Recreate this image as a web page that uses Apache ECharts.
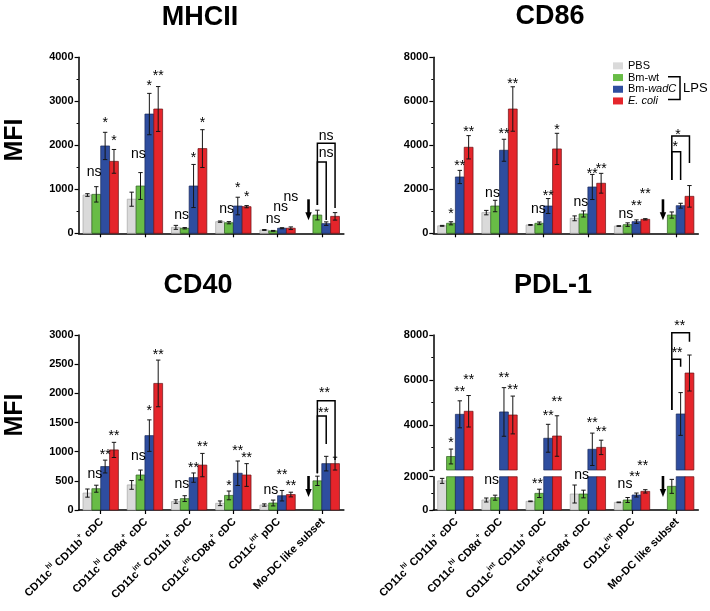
<!DOCTYPE html>
<html><head><meta charset="utf-8">
<script src="https://cdn.jsdelivr.net/npm/echarts@6/dist/echarts.min.js"></script>
<style>html,body{margin:0;padding:0;background:#fff}#c{width:710px;height:611px}</style>
</head><body><div id="c"></div>
<script>
// ---------- data ----------
const categories = ['CD11c^{hi} CD11b^{+} cDC','CD11c^{hi} CD8\u03b1^{+} cDC','CD11c^{int} CD11b^{+} cDC','CD11c^{int}CD8\u03b1^{+} cDC','CD11c^{int} pDC','Mo-DC like subset'];
const groups = ['PBS','Bm-wt','Bm-wadC','E. coli'];
const titles = ['MHCII','CD86','CD40','PDL-1'];

// MHCII (means, errors)
const mhcPBS   = [870, 775, 135, 265, 75, null];
const mhcWt    = [885, 1075, 115, 240, 55, 415];
const mhcWadC  = [1985, 2710, 1075, 620, 115, 220];
const mhcEcoli = [1635, 2825, 1925, 605, 115, 385];
const mhcPBSErr   = [30, 160, 45, 15, 10, null];
const mhcWtErr    = [175, 305, 15, 25, 10, 110];
const mhcWadCErr  = [310, 470, 490, 200, 12, 40];
const mhcEcoliErr = [270, 510, 430, 25, 30, 85];
// [category, slot, value, text]
const mhcSig = [[0,0.75,1364,'ns'],[0,2,2576,'*'],[0,3,2174,'*'],
  [1,0.75,1765,'ns'],[1,2,3424,'*'],[1,3,3636,'**'],
  [2,0.65,379,'ns'],[2,2,1765,'*'],[2,3,2576,'*'],
  [3,0.75,530,'ns'],[3,2,1091,'*'],[3,3,894,'*'],
  [4,1,303,'ns'],[4,1.85,568,'ns'],[4,3,795,'ns'],
  [5,2,2190,'ns'],[5,2,1800,'ns']];
// [category, slotFrom, slotTo, top, leftEnd, rightEnd]
const mhcBrackets = [[5,1,3,2045,643,575],[5,1,2,1620,643,302]];

// CD86
const cd86PBS   = [340, 940, 380, 680, 330, null];
const cd86Wt    = [455, 1240, 455, 880, 395, 830];
const cd86WadC  = [2560, 3775, 1240, 2105, 530, 1255];
const cd86Ecoli = [3910, 5650, 3835, 2275, 635, 1680];
const cd86PBSErr   = [20, 100, 20, 110, 15, null];
const cd86WtErr    = [70, 260, 60, 140, 80, 140];
const cd86WadCErr  = [300, 500, 340, 570, 80, 110];
const cd86EcoliErr = [530, 1010, 710, 450, 30, 490];
const cd86Sig = [[0,1,985,'*'],[0,2,3182,'**'],[0,3,4727,'**'],
  [1,0.7,1788,'ns'],[1,2,4621,'**'],[1,3,6894,'**'],
  [2,0.9,1030,'ns'],[2,2,1818,'**'],[2,3,4848,'*'],
  [3,0.7,1364,'ns'],[3,2,2833,'**'],[3,3,3061,'**'],
  [4,0.8,833,'ns'],[4,2,1364,'**'],[4,3,1894,'**'],
  [5,1.7,4618,'*'],[5,1.4,4059,'*']];
const cd86Brackets = [[5,1,3,4423,2423,3195],[5,1,2,3709,2423,2423]];

// CD40
const cd40PBS   = [290, 430, 145, 115, 85, null];
const cd40Wt    = [365, 600, 195, 250, 120, 500];
const cd40WadC  = [745, 1275, 555, 630, 245, 795];
const cd40Ecoli = [1030, 2170, 770, 600, 265, 795];
const cd40PBSErr   = [70, 75, 30, 40, 20, null];
const cd40WtErr    = [60, 85, 50, 75, 50, 80];
const cd40WadCErr  = [110, 270, 80, 210, 90, 125];
const cd40EcoliErr = [130, 400, 200, 195, 40, 110];
const cd40Sig = [[0,0.85,600,'ns'],[0,2,1000,'**'],[0,3,1314,'**'],
  [1,0.75,914,'ns'],[1,2,1743,'*'],[1,3,2714,'**'],
  [2,0.67,429,'ns'],[2,2,771,'**'],[2,3,1131,'**'],
  [3,1,457,'*'],[3,2,1057,'**'],[3,3,943,'**'],
  [4,0.75,326,'ns'],[4,2,657,'**'],[4,3,457,'**'],
  [5,1.8,2057,'**'],[5,1.7,1714,'**']];
const cd40Brackets = [[5,1,3,1874,629,857],[5,1,2,1611,629,1131]];

// PDL-1 (broken axis: 0-2000 / 2000-8000)
const pdlPBS   = [1750, 600, 520, 960, 460, null];
const pdlWt    = [2600, 740, 1000, 960, 600, 1420];
const pdlWadC  = [4475, 4580, 3410, 2920, 900, 4490];
const pdlEcoli = [4610, 4445, 3510, 3005, 1120, 6310];
const pdlPBSErr   = [150, 120, 20, 540, 20, null];
const pdlWtErr    = [330, 150, 250, 230, 150, 420];
const pdlWadCErr  = [600, 1080, 620, 720, 120, 950];
const pdlEcoliErr = [700, 840, 900, 320, 100, 800];
const pdlSigLow = [[1,0.6,1760,'ns'],[2,0.8,1760,'**'],[3,0.8,2060,'ns'],[4,0.7,1500,'ns'],[4,1.8,2160,'**']];
const pdlSigHigh = [[0,1,3333,'*'],[0,2,5600,'**'],[0,3,6148,'**'],
  [1,2,6222,'**'],[1,3,5704,'**'],[2,2,4519,'**'],[2,3,5141,'**'],
  [3,2,4222,'**'],[3,3,3807,'**'],[4,2.7,2326,'**'],
  [5,1.9,8520,'**'],[5,1.6,7333,'**']];
const pdlBrackets = [[5,1,3,8102,4667,7702],[5,1,2,6920,4667,6591]];

// ---------- styling ----------
const FONT = "'Liberation Sans', Arial, Helvetica, sans-serif";
const colors  = ['#dadada','#68bc46','#2e4d9f','#e5252b'];
const borders = ['#a8a8a8','#2f5e22','#1a2a5a','#6a1215'];

const grids = [
  {left:78.6, top:57.3, width:265.3, height:176},
  {left:433.3, top:57.3, width:265, height:176},
  {left:78.6, top:335, width:265.3, height:175},
  {left:433.3, top:335, width:265, height:135},
  {left:433.3, top:476.7, width:265, height:33.3}
];

function labelFmt(s){
  return '{m|' + s.replace(/\^\{([^}]*)\}/g, '}{s|$1}{m|') + '}';
}

function xAxis(i, showLabels, showLine){
  return {type:'category', gridIndex:i, data:categories, boundaryGap:true,
    axisLine:{show:showLine, lineStyle:{color:'#000', width:1.5}},
    axisTick:{show:showLine, alignWithLabel:true, length:4, lineStyle:{color:'#000', width:1.2}},
    axisLabel:{show:showLabels, rotate:45, margin:9, interval:0, formatter:labelFmt,
      rich:{m:{fontSize:11, fontWeight:'bold', fontFamily:FONT, color:'#000', lineHeight:14, verticalAlign:'bottom'},
            s:{fontSize:7, fontWeight:'bold', fontFamily:FONT, color:'#000', lineHeight:8, verticalAlign:'top'}}},
    splitLine:{show:false}};
}
function yAxis(i, min, max, interval, minor, showMinLabel){
  return {type:'value', gridIndex:i, min:min, max:max, interval:interval,
    axisLine:{show:true, lineStyle:{color:'#000', width:1.5}},
    axisTick:{show:true, length:4, lineStyle:{color:'#000', width:1.2}},
    minorTick:{show:minor, splitNumber:2, length:2, lineStyle:{color:'#000', width:1}},
    axisLabel:{margin:5, fontSize:11, fontWeight:'bold', fontFamily:FONT, color:'#000',
      showMinLabel:showMinLabel, formatter:v=>String(v)},
    splitLine:{show:false}};
}

function barRender(gi){
  return function(params, api){
    const cat = api.value(0), v = api.value(1), e = api.value(2);
    const cs = params.coordSys;
    const band = api.size([1,0])[0], bw = band*0.2;
    const xc = api.coord([cat,0])[0] + (gi-1.5)*bw;
    const yTop = api.coord([cat,v])[1], yBase = api.coord([cat,0])[1];
    const top = cs.y, bot = cs.y + cs.height;
    const clampY = y => Math.max(top, Math.min(bot, y));
    const children = [];
    const y0 = clampY(yTop), y1 = clampY(yBase);
    if (y1 - y0 > 0.1) {
      children.push({type:'rect', shape:{x:xc-bw/2, y:y0, width:bw, height:y1-y0},
        style:{fill:colors[gi], stroke:borders[gi], lineWidth:0.7}});
    }
    if (e > 0) {
      const ya = api.coord([cat, v+e])[1], yb = api.coord([cat, v-e])[1];
      const ca = clampY(ya), cb = clampY(yb);
      const st = {stroke:'#151515', lineWidth:1};
      if (cb - ca > 0.1) {
        children.push({type:'line', shape:{x1:xc, y1:ca, x2:xc, y2:cb}, style:st});
        if (ya >= top - 0.5 && ya <= bot) children.push({type:'line', shape:{x1:xc-2.2, y1:ya, x2:xc+2.2, y2:ya}, style:st});
        if (yb <= bot + 0.5 && yb >= top) children.push({type:'line', shape:{x1:xc-2.2, y1:yb, x2:xc+2.2, y2:yb}, style:st});
      }
    }
    return {type:'group', children:children};
  };
}

function sigRender(list){
  return function(params, api){
    const d = list[params.dataIndex];
    const bw = api.size([1,0])[0]*0.2;
    const p = api.coord([d[0], d[2]]);
    const x = p[0] + (d[1]-1.5)*bw;
    const dy = d[3].indexOf('*') >= 0 ? 3 : -1;
    return {type:'text', x:x, y:p[1]+dy,
      style:{text:d[3], font:'14px ' + FONT, fill:'#000', align:'center', verticalAlign:'middle'}};
  };
}

function bracketRender(list){
  return function(params, api){
    const d = list[params.dataIndex];
    const bw = api.size([1,0])[0]*0.2;
    const c = api.coord([d[0], 0])[0];
    const xa = c + (d[1]-1.5)*bw, xb = c + (d[2]-1.5)*bw;
    const yt = api.coord([d[0], d[3]])[1], yl = api.coord([d[0], d[4]])[1], yr = api.coord([d[0], d[5]])[1];
    return {type:'polyline', shape:{points:[[xa,yl],[xa,yt],[xb,yt],[xb,yr]]},
      style:{stroke:'#000', lineWidth:1.5, fill:null}};
  };
}

function arrowRender(params, api){
  const bw = api.size([1,0])[0]*0.2;
  const p = api.coord([api.value(0), 0]);
  const x = p[0] + (0-1.5)*bw, b = p[1];
  return {type:'group', children:[
    {type:'rect', shape:{x:x-1.3, y:b-34, width:2.6, height:14}, style:{fill:'#000'}},
    {type:'polygon', shape:{points:[[x-3.2,b-21],[x+3.2,b-21],[x,b-13]]}, style:{fill:'#000'}}
  ]};
}

const series = [];
function addBars(gridIdx, vals, errs){
  vals.forEach((arr, gi) => {
    const data = [];
    arr.forEach((v, i) => { if (v != null) data.push([i, v, errs[gi][i]]); });
    series.push({type:'custom', name:groups[gi], xAxisIndex:gridIdx, yAxisIndex:gridIdx,
      itemStyle:{color:colors[gi]}, renderItem:barRender(gi), data:data,
      encode:{x:0, y:1}, z:2, silent:true});
  });
}
function addSig(gridIdx, list){
  series.push({type:'custom', name:'sig'+gridIdx+'_'+series.length, xAxisIndex:gridIdx, yAxisIndex:gridIdx,
    renderItem:sigRender(list), data:list.map(d=>[d[0], d[1], d[2]]), encode:{x:0, y:2}, z:5, silent:true});
}
function addBrackets(gridIdx, list){
  series.push({type:'custom', name:'br'+gridIdx, xAxisIndex:gridIdx, yAxisIndex:gridIdx,
    renderItem:bracketRender(list), data:list.map(d=>[d[0], d[3]]), encode:{x:0, y:1}, z:4, silent:true});
}
function addArrow(gridIdx){
  series.push({type:'custom', name:'arrow'+gridIdx, xAxisIndex:gridIdx, yAxisIndex:gridIdx,
    renderItem:arrowRender, data:[[5,0]], encode:{x:0, y:1}, z:4, silent:true});
}

addBars(0, [mhcPBS, mhcWt, mhcWadC, mhcEcoli], [mhcPBSErr, mhcWtErr, mhcWadCErr, mhcEcoliErr]);
addSig(0, mhcSig); addBrackets(0, mhcBrackets); addArrow(0);
addBars(1, [cd86PBS, cd86Wt, cd86WadC, cd86Ecoli], [cd86PBSErr, cd86WtErr, cd86WadCErr, cd86EcoliErr]);
addSig(1, cd86Sig); addBrackets(1, cd86Brackets); addArrow(1);
addBars(2, [cd40PBS, cd40Wt, cd40WadC, cd40Ecoli], [cd40PBSErr, cd40WtErr, cd40WadCErr, cd40EcoliErr]);
addSig(2, cd40Sig); addBrackets(2, cd40Brackets); addArrow(2);
addBars(3, [pdlPBS, pdlWt, pdlWadC, pdlEcoli], [pdlPBSErr, pdlWtErr, pdlWadCErr, pdlEcoliErr]);
addBars(4, [pdlPBS, pdlWt, pdlWadC, pdlEcoli], [pdlPBSErr, pdlWtErr, pdlWadCErr, pdlEcoliErr]);
addSig(3, pdlSigHigh); addSig(4, pdlSigLow); addBrackets(3, pdlBrackets); addArrow(4);

const titleCenters = [[200,18],[550,17],[198,286],[553,286]];

const option = {
  animation:false,
  backgroundColor:'#fff',
  title: titles.map((t,i)=>({text:t, left:titleCenters[i][0], top:titleCenters[i][1], padding:0,
    textAlign:'center', textVerticalAlign:'middle',
    textStyle:{fontSize:27, fontWeight:'bold', fontFamily:FONT, color:'#000'}})),
  legend:{orient:'vertical', left:613, top:60, itemWidth:10, itemHeight:7, itemGap:0, padding:0,
    selectedMode:false, data:groups.map(n=>({name:n, icon:'rect'})),
    formatter: n => n === 'Bm-wadC' ? 'Bm-{i|wadC}' : (n === 'E. coli' ? '{i|E. coli}' : n),
    textStyle:{fontSize:11, lineHeight:11.7, fontFamily:FONT, color:'#000',
      rich:{i:{fontStyle:'italic', fontSize:11, fontFamily:FONT, color:'#000', lineHeight:11.7}}}},
  grid: grids.map(g=>Object.assign({containLabel:false}, g)),
  xAxis:[xAxis(0,false,true), xAxis(1,false,true), xAxis(2,true,true), xAxis(3,false,false), xAxis(4,true,true)],
  yAxis:[yAxis(0,0,4000,1000,true,true), yAxis(1,0,8000,2000,true,true), yAxis(2,0,3000,500,false,true),
         yAxis(3,2000,8000,2000,true,false), yAxis(4,0,2000,2000,true,true)],
  graphic:[
    {type:'text', x:15, y:140, rotation:Math.PI/2, style:{text:'MFI', font:'bold 25px '+FONT, fill:'#000', align:'center', verticalAlign:'middle'}},
    {type:'text', x:15.5, y:415, rotation:Math.PI/2, style:{text:'MFI', font:'bold 25px '+FONT, fill:'#000', align:'center', verticalAlign:'middle'}},
    {type:'polyline', shape:{points:[[668,76.7],[680,76.7],[680,99.5],[668,99.5]]}, style:{stroke:'#000', lineWidth:1.5, fill:null}},
    {type:'text', x:683, y:88.5, style:{text:'LPS', font:'13px '+FONT, fill:'#000', align:'left', verticalAlign:'middle'}}
  ],
  series:series
};
const chart = echarts.init(document.getElementById('c'), null, {renderer:'canvas'});
chart.setOption(option);
</script></body></html>
